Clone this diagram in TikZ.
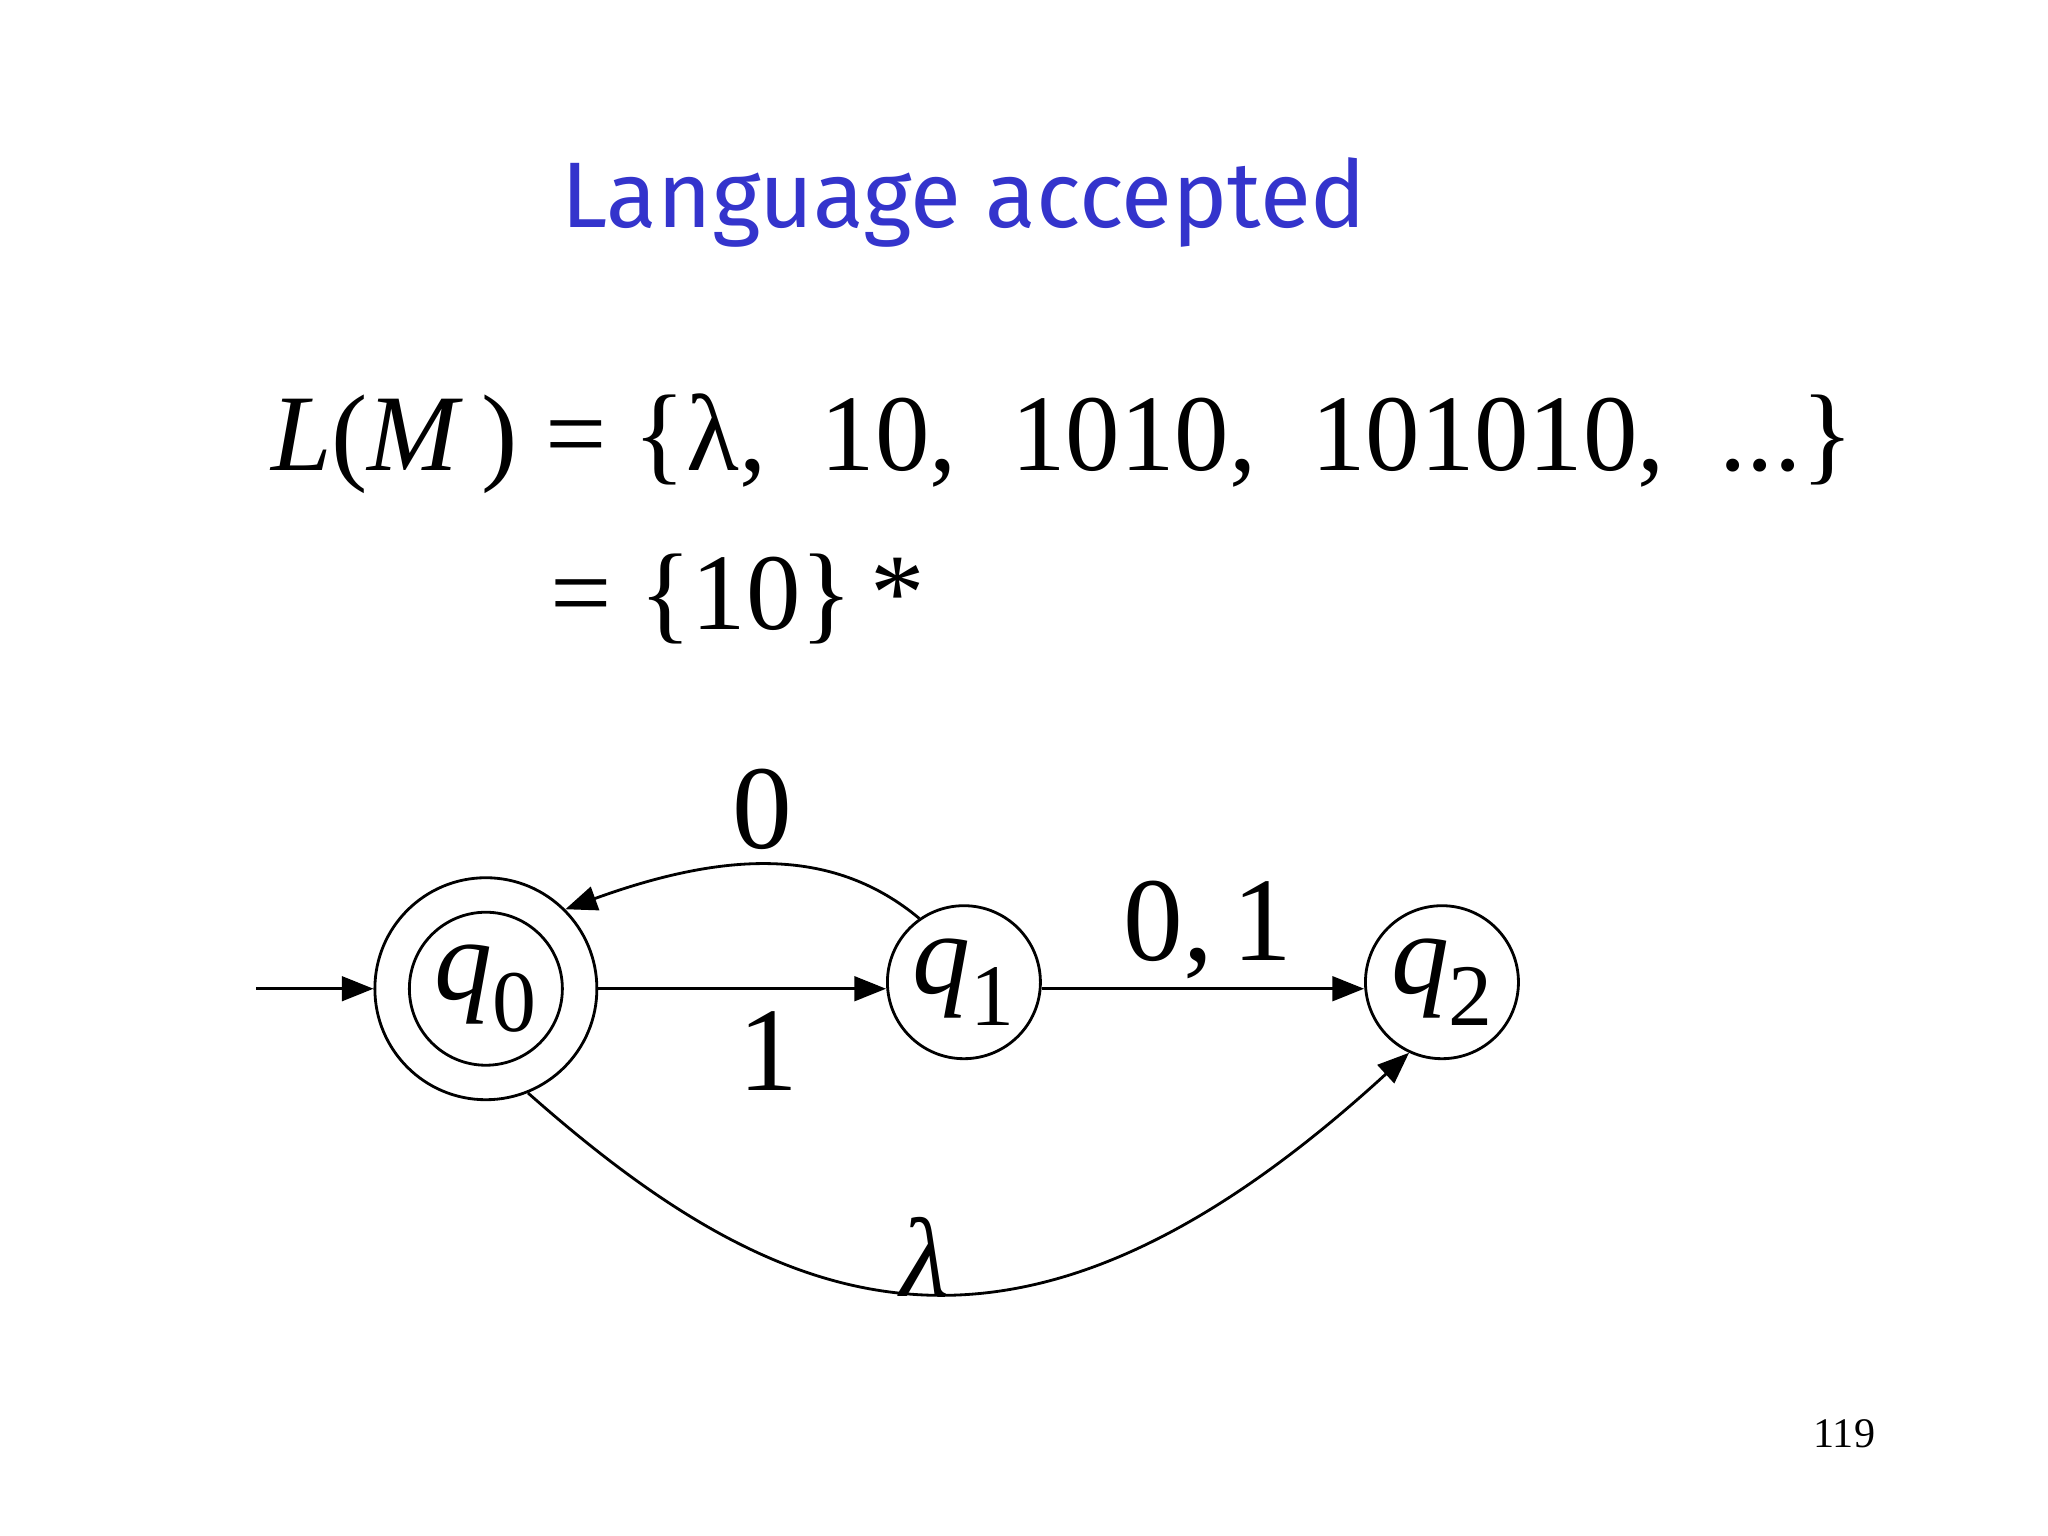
\documentclass[tikz,border=0pt]{standalone}
\usepackage{fontspec}
\setmainfont{Liberation Serif}
\newfontfamily\titlefont{Fira Sans}
\usetikzlibrary{arrows.meta}
\definecolor{ttl}{RGB}{52,52,204}
\newcommand{\qs}[1]{\textit{q}\raisebox{-0.28em}{\fontsize{25}{27}\selectfont #1}}
\begin{document}
\begin{tikzpicture}[x=0.013061cm,y=-0.013061cm,
  ed/.style={line width=0.8pt,-{Triangle[length=9pt,width=7pt]}},
  stt/.style={draw,circle,line width=0.8pt,minimum size=1.53cm,inner sep=0pt,font=\fontsize{33}{36}\selectfont},
  lb/.style={font=\fontsize{34}{38}\selectfont}]
\useasboundingbox (0,0) rectangle (1568,1176);
\node[text=ttl,font=\titlefont\fontsize{26.5}{30}\selectfont] (title) at (738,155) {Language accepted};
\node[anchor=base west,font=\fontsize{31}{36}\selectfont] (lm) at (198,360) {\textit{L}(\textit{M}\,) = \{λ,\ \ 10,\ \ 1010,\ \ 101010,\ \ ...\}};
\node[anchor=base west,font=\fontsize{31}{36}\selectfont] (eq) at (412,482) {= \{10\}\,*};
\node[draw,circle,line width=0.8pt,minimum size=1.53cm,inner sep=0pt] (q0i) at (372,757) {};
\node[stt,minimum size=2.22cm] (q0) at (372,757) {\qs{0}};
\node[stt] (q1) at (738,752) {\qs{1}};
\node[stt] (q2) at (1104,752) {\qs{2}};
\coordinate (s) at (196,757);
\draw[ed] (s) -- (s -| q0.west);
\draw[ed] (q0.east |- 0,757) -- (q1.west |- 0,757);
\draw[ed] (q1.east |- 0,757) -- (q2.west |- 0,757);
\draw[ed] (q1.125) .. controls (640,650) and (560,650) .. (q0.45);
\draw[ed] (q0.-68) .. controls (600,1010) and (780,1080) .. (q2.-115);
\node[lb] (l1) at (588,805) {1};
\node[lb] (l0) at (584,620) {0};
\node[lb] (l01) at (925,712) {0,\,1};
\node[lb,font=\itshape\fontsize{32}{36}\selectfont] (ll) at (708,962) {λ};
\node[font=\fontsize{12}{14}\selectfont] (pg) at (1412,1098) {119};
\end{tikzpicture}
\end{document}
